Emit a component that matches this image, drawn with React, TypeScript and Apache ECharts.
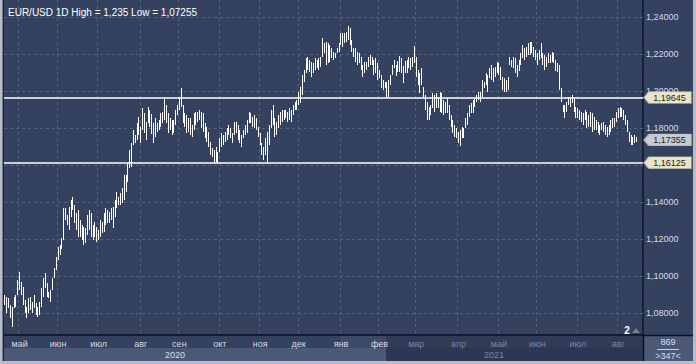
import React, { useEffect, useRef } from 'react';
import * as echarts from 'echarts';

// ---------- data ----------
const title = 'EUR/USD 1D High = 1,235 Low = 1,07255';
const startDate = '2020-04-21';
const slotCount = 348; // trading-day slots on the axis (a few empty ones at the right)
const monthNames = ['янв', 'фев', 'мар', 'апр', 'май', 'июн', 'июл', 'авг', 'сен', 'окт', 'ноя', 'дек'];
const yearLabels = ['2020', '2021'];
const yTicks = [1.08, 1.1, 1.12, 1.14, 1.16, 1.18, 1.2, 1.22, 1.24];
const levelLines = [1.19645, 1.16125];
const lastPrice = 1.17355;
const yMin = 1.0681;
const yMax = 1.2492;

const highs = [
  1.0897, 1.0886, 1.0881, 1.0843, 1.0832, 1.0886, 1.0897, 1.0978, 1.1022, 1.0968,
  1.0941, 1.0870, 1.0832, 1.0881, 1.0886, 1.0859, 1.0897, 1.0854, 1.0832, 1.0859,
  1.0935, 1.0989, 1.1016, 1.0962, 1.0914, 1.0924, 1.0989, 1.1043, 1.1103, 1.1157,
  1.1168, 1.1205, 1.1368, 1.1368, 1.1330, 1.1373, 1.1411, 1.1427, 1.1384, 1.1341,
  1.1357, 1.1303, 1.1276, 1.1265, 1.1260, 1.1330, 1.1357, 1.1341, 1.1276, 1.1292,
  1.1265, 1.1249, 1.1303, 1.1292, 1.1341, 1.1368, 1.1357, 1.1346, 1.1368, 1.1373,
  1.1411, 1.1454, 1.1427, 1.1449, 1.1476, 1.1546, 1.1546, 1.1611, 1.1681, 1.1719, 1.1789,
  1.1762, 1.1827, 1.1859, 1.1805, 1.1908, 1.1881, 1.1832, 1.1913, 1.1897, 1.1876,
  1.1827, 1.1854, 1.1827, 1.1843, 1.1881, 1.1886, 1.1967, 1.1924, 1.1881, 1.1854,
  1.1843, 1.1843, 1.1897, 1.1924, 1.1967, 1.2016, 1.1924, 1.1881, 1.1870, 1.1854,
  1.1854, 1.1816, 1.1881, 1.1886, 1.1886, 1.1897, 1.1886, 1.1881, 1.1827, 1.1805,
  1.1778, 1.1724, 1.1692, 1.1681, 1.1697, 1.1670, 1.1746, 1.1773, 1.1762, 1.1778,
  1.1800, 1.1816, 1.1800, 1.1773, 1.1832, 1.1832, 1.1816, 1.1789, 1.1762, 1.1789,
  1.1816, 1.1843, 1.1886, 1.1881, 1.1859, 1.1870, 1.1854, 1.1805, 1.1773, 1.1719, 1.1697,
  1.1746, 1.1778, 1.1816, 1.1897, 1.1924, 1.1854, 1.1832, 1.1870, 1.1886, 1.1897,
  1.1897, 1.1897, 1.1886, 1.1908, 1.1897, 1.1924, 1.1940, 1.1951, 1.1994, 1.2022,
  1.2086, 1.2114, 1.2179, 1.2184, 1.2168, 1.2157, 1.2152, 1.2179, 1.2168, 1.2179, 1.2184,
  1.2287, 1.2260, 1.2265, 1.2260, 1.2249, 1.2233, 1.2211, 1.2206, 1.2233, 1.2260,
  1.2314, 1.2314, 1.2314, 1.2319, 1.2350, 1.2341, 1.2276, 1.2233, 1.2233, 1.2211,
  1.2206, 1.2184, 1.2141, 1.2157, 1.2157, 1.2184, 1.2195, 1.2184, 1.2168, 1.2179,
  1.2152, 1.2114, 1.2086, 1.2059, 1.2049, 1.2049, 1.2059, 1.2086,
  1.2141, 1.2168, 1.2141, 1.2163, 1.2190, 1.2179, 1.2135, 1.2163, 1.2168, 1.2184,
  1.2179, 1.2184, 1.2243, 1.2184, 1.2114, 1.2097, 1.2124, 1.2022, 1.1978, 1.1940,
  1.1913, 1.1924, 1.1989, 1.1978, 1.1989, 1.1967, 1.1994, 1.1989, 1.1951, 1.1940,
  1.1962, 1.1924, 1.1870, 1.1843, 1.1816, 1.1800, 1.1778, 1.1789, 1.1805, 1.1800,
  1.1854, 1.1881, 1.1924, 1.1935, 1.1951, 1.1962, 1.1978, 1.1994, 1.1994, 1.2059,
  1.2049, 1.2097, 1.2086, 1.2124, 1.2141, 1.2124, 1.2130, 1.2157, 1.2152, 1.2130,
  1.2076, 1.2070, 1.2059, 1.2076, 1.2184, 1.2168, 1.2184, 1.2179,
  1.2141, 1.2168, 1.2206, 1.2249, 1.2233, 1.2238, 1.2260, 1.2265, 1.2265, 1.2238,
  1.2222, 1.2206, 1.2222, 1.2260, 1.2206, 1.2195, 1.2184, 1.2206, 1.2195, 1.2211,
  1.2206, 1.2168, 1.2152, 1.2141, 1.2016, 1.1924, 1.1924, 1.1940, 1.1967, 1.1967,
  1.1978, 1.1962, 1.1913, 1.1908, 1.1897, 1.1886, 1.1881, 1.1897, 1.1886, 1.1870,
  1.1886, 1.1881, 1.1859, 1.1843, 1.1832, 1.1816, 1.1827, 1.1832, 1.1816, 1.1805,
  1.1816, 1.1843, 1.1854, 1.1854, 1.1886, 1.1908, 1.1913, 1.1908, 1.1897, 1.1870,
  1.1843, 1.1778, 1.1762, 1.1751, 1.1762, 1.1751,
];

const lows = [
  1.0843, 1.0800, 1.0827, 1.0773, 1.0726, 1.0827, 1.0832, 1.0897, 1.0924, 1.0897,
  1.0843, 1.0800, 1.0773, 1.0800, 1.0816, 1.0800, 1.0827, 1.0789, 1.0778, 1.0789,
  1.0832, 1.0886, 1.0935, 1.0886, 1.0881, 1.0859, 1.0924, 1.0989, 1.1033, 1.1089,
  1.1116, 1.1143, 1.1197, 1.1303, 1.1276, 1.1249, 1.1319, 1.1357, 1.1287, 1.1249,
  1.1211, 1.1211, 1.1197, 1.1170, 1.1178, 1.1222, 1.1249, 1.1211, 1.1197, 1.1211,
  1.1184, 1.1197, 1.1211, 1.1232, 1.1238, 1.1276, 1.1287, 1.1287, 1.1303, 1.1260,
  1.1319, 1.1368, 1.1384, 1.1384, 1.1395, 1.1411, 1.1454, 1.1508, 1.1584, 1.1589, 1.1708,
  1.1719, 1.1735, 1.1762, 1.1719, 1.1789, 1.1773, 1.1735, 1.1827, 1.1805, 1.1768,
  1.1719, 1.1751, 1.1778, 1.1789, 1.1805, 1.1827, 1.1843, 1.1827, 1.1773, 1.1789,
  1.1762, 1.1773, 1.1816, 1.1870, 1.1897, 1.1913, 1.1827, 1.1805, 1.1773, 1.1778,
  1.1762, 1.1751, 1.1789, 1.1816, 1.1832, 1.1843, 1.1800, 1.1778, 1.1746, 1.1724,
  1.1697, 1.1654, 1.1643, 1.1611, 1.1616, 1.1611, 1.1670, 1.1697, 1.1708, 1.1724,
  1.1735, 1.1762, 1.1746, 1.1719, 1.1762, 1.1773, 1.1735, 1.1719, 1.1697, 1.1746,
  1.1762, 1.1773, 1.1827, 1.1827, 1.1805, 1.1800, 1.1789, 1.1751, 1.1708, 1.1654, 1.1627,
  1.1654, 1.1603, 1.1708, 1.1800, 1.1816, 1.1751, 1.1762, 1.1800, 1.1816, 1.1832,
  1.1843, 1.1854, 1.1832, 1.1843, 1.1832, 1.1870, 1.1897, 1.1897, 1.1924, 1.1935,
  1.1978, 1.2049, 1.2097, 1.2114, 1.2103, 1.2076, 1.2097, 1.2114, 1.2124, 1.2114, 1.2130,
  1.2184, 1.2206, 1.2141, 1.2152, 1.2157, 1.2179, 1.2168, 1.2179, 1.2206, 1.2211,
  1.2249, 1.2238, 1.2260, 1.2265, 1.2276, 1.2249, 1.2211, 1.2184, 1.2157, 1.2141,
  1.2152, 1.2114, 1.2076, 1.2097, 1.2114, 1.2130, 1.2141, 1.2141, 1.2086, 1.2097,
  1.2059, 1.2071, 1.2016, 1.2005, 1.2016, 1.1962, 1.1967, 1.2032,
  1.2086, 1.2124, 1.2081, 1.2103, 1.2103, 1.2097, 1.2043, 1.2097, 1.2097, 1.2124,
  1.2114, 1.2130, 1.2152, 1.2076, 1.2032, 1.1989, 1.2032, 1.1962, 1.1897, 1.1843,
  1.1843, 1.1870, 1.1908, 1.1886, 1.1908, 1.1908, 1.1886, 1.1881, 1.1870, 1.1881,
  1.1881, 1.1843, 1.1805, 1.1773, 1.1751, 1.1746, 1.1719, 1.1704, 1.1746, 1.1746,
  1.1800, 1.1816, 1.1859, 1.1881, 1.1881, 1.1913, 1.1940, 1.1951, 1.1940, 1.1967,
  1.2016, 1.2032, 1.1994, 1.2070, 1.2059, 1.2049, 1.2076, 1.2097, 1.2086, 1.2059,
  1.2005, 1.1994, 1.1994, 1.2005, 1.2141, 1.2130, 1.2124, 1.2097,
  1.2076, 1.2108, 1.2141, 1.2179, 1.2168, 1.2184, 1.2195, 1.2195, 1.2206, 1.2184,
  1.2168, 1.2141, 1.2168, 1.2179, 1.2141, 1.2114, 1.2130, 1.2152, 1.2152, 1.2157,
  1.2152, 1.2108, 1.2103, 1.2005, 1.1940, 1.1886, 1.1854, 1.1886, 1.1924, 1.1913,
  1.1935, 1.1886, 1.1854, 1.1854, 1.1843, 1.1832, 1.1816, 1.1843, 1.1800, 1.1805,
  1.1805, 1.1778, 1.1789, 1.1789, 1.1773, 1.1762, 1.1789, 1.1778, 1.1762, 1.1751,
  1.1762, 1.1778, 1.1800, 1.1805, 1.1832, 1.1854, 1.1859, 1.1859, 1.1843, 1.1816,
  1.1778, 1.1724, 1.1708, 1.1708, 1.1719, 1.1724,
];

// ---------- helpers ----------
function tradingDays(start: string, n: number): string[] {
  const out: string[] = [];
  const d = new Date(start + 'T00:00:00Z');
  while (out.length < n) {
    const wd = d.getUTCDay();
    if (wd !== 0 && wd !== 6) out.push(d.toISOString().slice(0, 10));
    d.setUTCDate(d.getUTCDate() + 1);
  }
  return out;
}
const fmt = (v: number) => v.toFixed(5).replace('.', ',');

const FONT = 'Liberation Sans';
const BG = '#34415f';
const LIGHT_TXT = '#d6dde9';
const DIM_TXT = '#7886a6';

export default function App() {
  const ref = useRef<HTMLDivElement>(null);

  useEffect(() => {
    if (!ref.current) return;
    const chart = echarts.init(ref.current, null, { renderer: 'svg' });

    const dates = tradingDays(startDate, slotCount);
    const isMonthStart = (i: number) => i > 0 && dates[i].slice(5, 7) !== dates[i - 1].slice(5, 7);
    const n = Math.min(highs.length, lows.length);
    const bars: number[][] = [];
    for (let i = 0; i < n; i++) bars.push([i, lows[i], highs[i]]);

    const tagValues = [...levelLines, lastPrice];

    const option: any = {
      animation: false,
      backgroundColor: BG,
      title: {
        text: title,
        left: 3,
        top: 2,
        textStyle: { color: '#ffffff', fontSize: 10, fontWeight: 'normal', fontFamily: FONT },
      },
      grid: { left: 4, right: 53, top: 0, bottom: 29, containLabel: false },
      xAxis: {
        type: 'category',
        data: dates,
        boundaryGap: true,
        axisLine: { show: true, lineStyle: { color: '#0c1220', width: 1.5 } },
        axisTick: { show: false },
        axisLabel: {
          interval: (i: number) => isMonthStart(i),
          formatter: (v: string) => monthNames[Number(v.slice(5, 7)) - 1],
          color: (v: string) => (v < '2021-03' ? LIGHT_TXT : DIM_TXT),
          fontSize: 9,
          fontFamily: FONT,
          margin: 4,
        },
        splitLine: {
          show: true,
          interval: (i: number) => isMonthStart(i),
          lineStyle: { color: '#53627f', type: [3, 3], width: 1 },
        },
      },
      yAxis: {
        type: 'value',
        position: 'right',
        min: yMin,
        max: yMax,
        axisLine: { show: true, lineStyle: { color: '#0c1220', width: 1.5 } },
        axisTick: { show: false },
        axisLabel: { show: false },
        splitLine: { show: false },
      },
      graphic: [
        // bottom rows
        { type: 'rect', z: -5, shape: { x: 4, y: 348, width: 382, height: 13 }, style: { fill: '#4b5977' } },
        { type: 'rect', z: -5, shape: { x: 386, y: 348, width: 257, height: 13 }, style: { fill: '#2c3753' } },
        { type: 'rect', z: -5, shape: { x: 340, y: 336, width: 46, height: 12 }, style: { fill: '#3e4b68' } },
        { type: 'rect', z: -5, shape: { x: 386, y: 336, width: 257, height: 12 }, style: { fill: '#2f3b57' } },
        { type: 'rect', z: -5, shape: { x: 644, y: 336, width: 49, height: 25 }, style: { fill: '#4b5977' } },
        // year labels
        { type: 'text', x: 175, y: 355, style: { text: yearLabels[0], fill: LIGHT_TXT, font: `9px "${FONT}"`, textAlign: 'center', textVerticalAlign: 'middle' } },
        { type: 'text', x: 494, y: 355, style: { text: yearLabels[1], fill: DIM_TXT, font: `9px "${FONT}"`, textAlign: 'center', textVerticalAlign: 'middle' } },
        // bottom right box
        { type: 'text', x: 668, y: 342, style: { text: '869', fill: LIGHT_TXT, font: `9px "${FONT}"`, textAlign: 'center', textVerticalAlign: 'middle' } },
        { type: 'line', shape: { x1: 657, y1: 349.5, x2: 679, y2: 349.5 }, style: { stroke: '#c9d1e0', lineWidth: 1 } },
        { type: 'text', x: 668, y: 355.5, style: { text: '>347<', fill: LIGHT_TXT, font: `9px "${FONT}"`, textAlign: 'center', textVerticalAlign: 'middle' } },
        // divider extensions
        { type: 'line', shape: { x1: 643.5, y1: 335, x2: 643.5, y2: 361 }, style: { stroke: '#0c1220', lineWidth: 1.5 } },
        { type: 'line', shape: { x1: 643, y1: 335.5, x2: 693, y2: 335.5 }, style: { stroke: '#0c1220', lineWidth: 1.5 } },
        // frame
        { type: 'rect', shape: { x: 0, y: 0, width: 2.5, height: 364 }, style: { fill: '#b7bcc6' } },
        { type: 'line', shape: { x1: 3.5, y1: 0, x2: 3.5, y2: 361 }, style: { stroke: '#1a2236', lineWidth: 1 } },
        { type: 'rect', shape: { x: 693, y: 0, width: 3, height: 364 }, style: { fill: '#b7bcc6' } },
        { type: 'rect', shape: { x: 0, y: 361, width: 696, height: 3 }, style: { fill: '#b7bcc6' } },
        // "2" marker
        { type: 'text', x: 627, y: 330, style: { text: '2', fill: '#ffffff', font: `bold 10px "${FONT}"`, textAlign: 'center', textVerticalAlign: 'middle' } },
        { type: 'polygon', shape: { points: [[632, 333], [636, 328], [640, 333]] }, style: { fill: '#6f7d9b' } },
      ],
      series: [
        {
          type: 'line',
          data: [],
          silent: true,
          markLine: {
            silent: true,
            z: 1,
            precision: 5,
            symbol: 'none',
            data: yTicks.map((v) => ({ yAxis: v })),
            lineStyle: { color: '#53627f', type: [3, 3], width: 1 },
            label: {
              show: true,
              position: 'end',
              distance: 3,
              formatter: (p: any) => fmt(p.value),
              color: LIGHT_TXT,
              fontSize: 9,
              fontFamily: FONT,
            },
            emphasis: { disabled: true },
          },
        },
        {
          type: 'custom',
          z: 2,
          silent: true,
          data: bars,
          encode: { x: 0, y: [1, 2] },
          renderItem: (params: any, api: any) => {
            const i = api.value(0);
            const lo = api.coord([i, api.value(1)]);
            const hi = api.coord([i, api.value(2)]);
            return {
              type: 'rect',
              shape: { x: Math.round(hi[0] - 0.5), y: Math.round(hi[1]), width: 1, height: Math.max(Math.round(lo[1] - hi[1]), 1) },
              style: { fill: '#ffffff' },
            };
          },
        },
        {
          type: 'line',
          data: [],
          silent: true,
          markLine: {
            silent: true,
            z: 4,
            precision: 5,
            symbol: 'none',
            data: levelLines.map((v) => ({ yAxis: v })),
            lineStyle: { color: '#ffffff', type: 'solid', width: 1.5 },
            label: { show: false },
            emphasis: { disabled: true },
          },
          markPoint: {
            silent: true,
            z: 6,
            symbol: 'path://M0,6L5,0L48,0L48,12L5,12Z',
            symbolSize: [48, 12],
            symbolOffset: [25.5, 0],
            data: tagValues.map((v) => ({
              coord: [slotCount - 1, v],
              value: v,
              itemStyle: {
                color: v === lastPrice ? '#c6cad2' : '#e7e4c8',
                borderColor: '#8e9098',
                borderWidth: 0.6,
              },
            })),
            label: {
              show: true,
              position: 'inside',
              offset: [2, 0],
              formatter: (p: any) => fmt(p.value),
              color: '#1d1f24',
              fontSize: 9,
              fontFamily: FONT,
            },
          },
        },
      ],
    };

    chart.setOption(option);
    return () => chart.dispose();
  }, []);

  return (
    <div
      ref={ref}
      style={{ position: 'fixed', left: 0, top: 0, width: 696, height: 364 }}
    />
  );
}
